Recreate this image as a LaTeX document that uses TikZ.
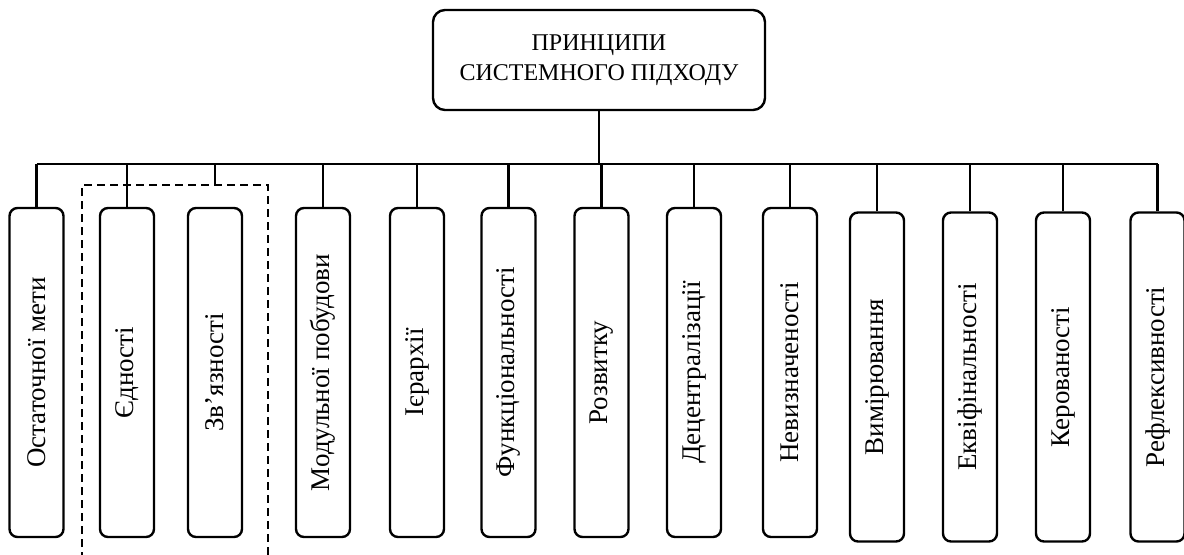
\documentclass[tikz,border=0pt]{standalone}
\usepackage{fontspec}
\setmainfont{Liberation Serif}
\usepackage{graphicx}
\begin{document}
\begin{tikzpicture}[x=0.5pt,y=-0.5pt,
  tbox/.style={draw,line width=1.2pt,rounded corners=6pt,inner sep=0pt,
    minimum width=166pt,minimum height=50pt,align=center,
    font=\fontsize{12}{15}\selectfont},
  pbox/.style={draw,line width=1.2pt,rounded corners=4pt,inner sep=0pt,
    minimum width=27pt,minimum height=164.5pt,
    font=\fontsize{13.5}{15}\selectfont}]
\useasboundingbox (0,0) rectangle (1184,554);
\node[tbox] (top) at (599,60) {ПРИНЦИПИ\\СИСТЕМНОГО ПІДХОДУ};
\foreach \n/\x/\y/\t in {b1/36.5/372.5/Остаточної мети,b2/127/372.5/Єдності,
  b3/215/372.5/Зв’язності,b4/323/372.5/Модульної побудови,b5/417/372.5/Ієрархії,
  b6/508.5/372.5/Функціональності,b7/601.5/372.5/Розвитку,b8/694/372.5/Децентралізації,
  b9/790/372.5/Невизначеності,b10/877/377/Вимірювання,b11/970/377/Еквіфінальності,
  b12/1063/377/Керованості,b13/1157.5/377/Рефлексивності} {
\node[pbox] (\n) at (\x,\y) {\rotatebox{90}{\t}};
}
\coordinate (bus) at (601,164);
\coordinate (grp) at (215,185);
\draw[line width=1.2pt] (top.south) -- (top.south |- bus);
\draw[line width=1.2pt] (b1.north |- bus) -- (b13.north |- bus);
\foreach \n in {b1,b2,b4,b5,b6,b7,b8,b9,b10,b11,b12,b13} {
\draw[line width=1.2pt] (\n.north) -- (\n.north |- bus);
}
\draw[line width=1.2pt] (grp |- bus) -- (grp);
% dashed frame round b2 and b3
\draw[line width=0.8pt,dash pattern=on 4pt off 2.5pt] (82,560) -- (82,185) -- (268,185) -- (268,560);
\end{tikzpicture}
\end{document}
